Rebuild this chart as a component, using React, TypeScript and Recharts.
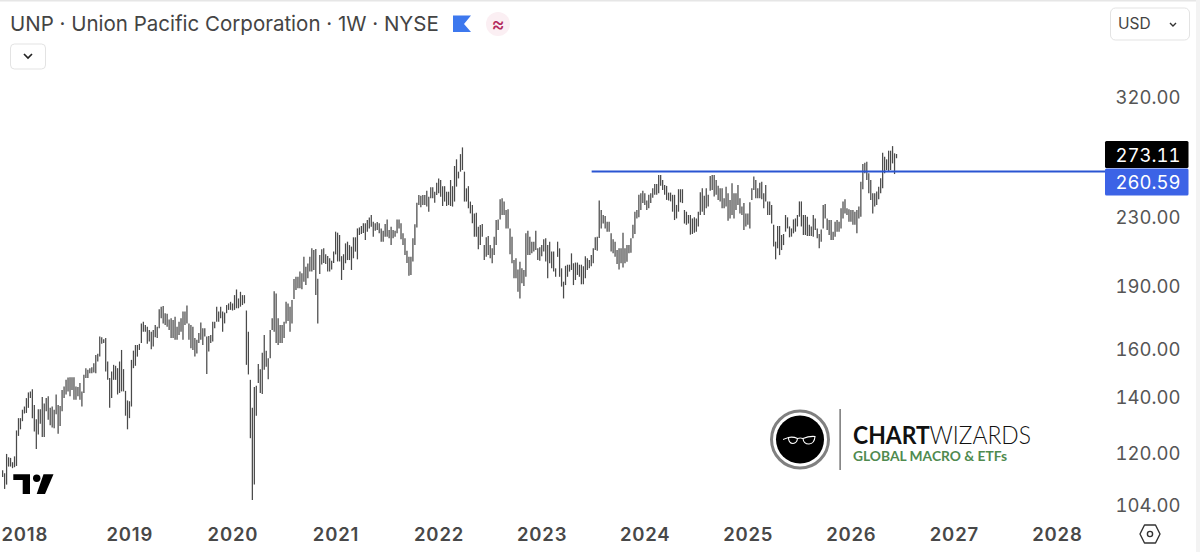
import React from "react";
import { ComposedChart, Bar, XAxis, YAxis, ReferenceLine } from "recharts";

const HIGHS = [
  114.4,113.5,119.7,118.6,118.4,117,118.9,127.7,132.1,132.1,
  135.2,136.4,139.6,141.8,142.2,143,137,131.7,135.4,135.4,
  140,137.5,139.6,140.3,135.9,136.4,135.2,141,137,136.6,
  142.8,144.1,146.8,147.8,147.9,147.9,147.9,144.1,143.9,145.5,
  142.2,148.9,151.6,150.9,151.6,152,153.7,157.2,157.7,165.4,
  165.1,164.2,164.7,154.4,147.6,150.2,153,152.6,151.6,154.4,
  159.4,151.2,142.4,138.7,138.4,155.1,159.1,161.6,161.6,162.1,
  171.5,172.3,170.7,169.9,168.4,167.6,168.4,170.7,169.9,178.3,
  179.6,179.9,176.4,176.1,173.4,173.9,173.1,174.7,169.9,172.3,
  173.9,177.2,177.2,180.2,171.5,170.7,169.9,164.7,163.9,167,
  171.9,169.2,169.2,165.4,165.7,166.1,172.3,172.3,179.6,177.2,
  179.6,177.2,176.7,180.4,181.2,182,181.2,185.4,188.3,183.7,
  187.1,185.4,185.4,177.7,167.6,146.8,135.9,143.9,144.4,153.4,
  151.2,158.2,166.1,159.1,155.8,168.4,173.9,187.4,186.2,173.9,
  170.7,170.7,172.3,182,181.2,179.6,182.9,193.8,195,195,
  197.8,196.9,206,200.5,202.2,206.1,210.9,209.9,210.5,193.9,
  207,210.3,210.9,207.5,206.5,205.2,203.8,209,220.8,220.2,
  218.8,206.4,207.5,213.8,214.8,212.8,211.9,217.4,217.4,222.8,
  223.4,224.3,226,226,228,229.6,231.2,227,226,226.8,
  226,222.8,221.4,225.6,228.4,221.8,223.8,221.8,221.4,228.4,
  228.4,226,219.9,216.8,209.5,206,206,216.8,225.4,239.2,
  244.3,243.8,244.3,244.3,247.2,243.1,249.5,249.5,246.5,252.6,
  255.7,254.6,250.3,250.3,246.5,246.5,254.6,250.3,264.6,269.5,
  260.5,273.4,278.5,260.5,248.8,250.3,239.9,237.6,232.2,232.7,
  223.8,224.9,225.6,212.8,217.4,218.2,212.8,210.9,217.8,228,
  228.4,241.4,242.1,239.9,234.4,234.8,222.8,217.8,204.2,205.2,
  199,203.3,199.6,198.7,219.9,221.4,217.8,214.8,214.8,221.4,
  210.9,211.5,212.8,216.2,216.8,212.8,214.8,209,209,199.6,
  214.8,210.9,199.6,192.4,201,201.6,201.6,208,202.4,202.8,
  202.8,201.6,201.6,200.7,206.4,205.2,204.2,207,210.9,217.4,
  217.8,240.6,234.4,231.2,230.6,227,227,219.8,216.2,214.8,
  209.9,210.9,210.9,220.2,210.9,212.8,212.8,216.8,225,233.3,
  234.4,244.4,245.5,247.2,245.5,240.6,244.4,245.5,248.8,251.8,
  251.8,258.1,258.1,254.6,251.1,250.5,245.9,245.9,244.4,244.4,
  237.7,248.2,248.2,248.2,234.4,233.3,231.2,231.2,229,229.7,
  229,233.3,246.1,248.8,243.7,248.8,244.4,257.4,258.1,258.1,
  254.6,250.5,248.8,248.8,242.1,249.9,245.5,241,252.3,245.5,
  245.5,251.1,242.1,236.6,238.9,232.2,232.2,239.4,248.8,257,
  254.6,248.8,252.7,253.4,245.5,251.1,240,240,237.7,225,
  214.8,224.3,224.3,218.8,219.4,231.2,229.7,224,222.8,228.4,
  229,231.2,240,240,231.2,231.2,230.1,225,224,231.2,
  229,222.8,219.4,222.2,237.7,238.3,229,228,228,220.8,
  227,228,227,235.5,240,241.4,235.5,234.8,234.4,234.4,
  233.3,234.4,236.6,253.4,266,267,267.7,259.3,254.6,245.5,
  245.5,246.6,249.9,255.8,274.5,271.5,269.5,276,276,279.5,
  274,273.5,
];

const LOWS = [
  112.3,108.7,110,115.6,115.6,115.1,115.4,115.8,125.8,128.1,
  131,133.8,134,135.9,139.6,132.1,127.3,121.3,126.3,130.1,
  125.4,125.4,134.6,131.5,129.5,128.7,128.5,133.5,126.5,129.3,
  134.6,139.6,141,142.2,140.3,142.8,139,139,140.3,139,
  136.4,141.6,147.6,147.6,149.5,149.5,149.8,149.5,154.4,156.5,
  162.2,162.5,150.2,146.8,135.9,139.6,146.8,146.8,141,141.6,
  142.2,142.2,133,128.1,132.1,136.4,151.6,152.6,156.5,159.4,
  162.5,167.6,167.6,162.1,163.2,159.7,160.9,165.1,164.7,169.2,
  173.9,171.5,170.7,169.9,168.4,164.7,164.7,163.9,163.9,166.1,
  167.6,163.9,170.7,171.5,163.9,160.1,159.4,156.5,157.9,162.5,
  163.9,161.6,165.4,149.2,158.7,162.5,163.2,169.2,172.3,172.3,
  173.9,167.6,171.5,176.4,178,178,177.7,178,178.8,178.8,
  179.6,180.4,181.2,153,149,125,105.4,110,133,145.5,
  141.6,141.2,150.9,152.2,147,155.8,168.4,167.6,162.5,161.6,
  162.5,162.5,164.7,171.5,172.6,167.6,171.5,183.4,188,188.9,
  188.9,188.4,192.4,190.6,194.2,197.8,197.8,198.7,185.5,171.5,
  196.5,201.7,202.5,202,197.8,197.8,199,202.5,207.4,203.4,
  203.4,193.3,198.7,202.4,204.2,204.2,198.7,205.2,209,204.6,
  218.8,219.4,220,215.8,220.8,222.8,223.8,217.8,221.4,221.8,
  219.9,214.8,214.8,217.8,217.8,216.8,212.8,216.8,217.8,219.9,
  222.8,216.2,212.8,207,202.5,195.6,196,203.4,212.8,223.4,
  237.6,236.1,237.6,237.6,236.6,233.3,242.1,242.1,239.2,244.3,
  245.4,243.1,237,239.9,237,237.6,237,236.6,239.9,250,
  255.7,260.5,261.7,239.9,239.9,235.5,232.2,226,217.8,217.8,
  210.3,212.8,217.8,204.2,206,207,205.2,202.4,207,212.8,
  221.8,228.4,231.2,231.2,222.8,222.8,207.5,202.4,194.2,194.2,
  187.1,183.7,191.5,190.1,195,207,207,208,209,209.9,
  204.2,203.8,206.4,209,203.4,194.2,202.4,199.6,197.8,195,
  206,195,189.8,183.7,190.6,195,197.8,198.7,190.6,193.3,
  196,195,191,191,194.2,198.7,199.6,200.7,202.4,209.9,
  209.5,217,222.8,225.8,222.8,220.8,220.8,209,208,206.1,
  202,199,202.4,200.1,202.4,203.3,208,208.4,216.8,219.4,
  229,229.7,234.4,238.9,237.7,234.4,235.5,238.9,242.5,244.4,
  244.4,245.5,250.5,247.7,244.4,241,240.6,240,233.3,228,
  229,233.3,239.4,238.9,225.8,225,225.8,219,219.4,220.2,
  220.8,224,231.2,233.3,231.2,235.5,236.6,247.2,247.7,243.3,
  244.4,241,240,235.5,235.5,236.6,227.6,229,231.2,229,
  234.4,237.7,232.2,231.2,221.8,224,225,222.8,241,247.7,
  242.1,242.1,242.1,241.4,235.5,240,231.2,231.2,225.8,212,
  204.6,210.9,207,209.9,212.8,220.8,222.8,217.4,217.8,219.8,
  220.8,224,230.1,224,218.8,218.8,218.2,218.2,218.2,217.8,
  221.8,216.8,210.9,214.8,222.8,229,221.8,218.8,215.8,215.8,
  217.8,220.8,220.8,222.8,229,232.2,231.2,227,227,225,
  225,219.8,229,230.1,248.2,259.3,254.6,245.5,241,232.2,
  236.6,237.7,241.4,245.5,248.8,259.3,261.7,260.5,261.7,266.5,
  258.8,270.3,
];

const TOTAL_WEEKS = 557;
const YEARS = [2018, 2019, 2020, 2021, 2022, 2023, 2024, 2025, 2026, 2027, 2028];
const YEAR_WEEKS = [11, 64, 116, 168, 220, 272, 324, 376, 428, 480, 532];
const PRICE_TICKS = [104, 120, 140, 160, 190, 230, 320];
const LAST_PRICE = 273.11;
const LEVEL = 260.59;
const LEVEL_FROM_WEEK = 297;
const LEVEL_TO_WEEK = 556;

const rows = Array.from({ length: TOTAL_WEEKS }, (_, week) => ({
  week,
  range: week < HIGHS.length ? [LOWS[week], HIGHS[week]] : null,
}));

const font = "Inter, 'Liberation Sans', sans-serif";
const tabular = { fontVariantNumeric: "tabular-nums", fontFeatureSettings: "'tnum'" } as React.CSSProperties;

function PriceTick(props: any) {
  const { y, payload } = props;
  const v = payload.value;
  if (v === LAST_PRICE || v === LEVEL) {
    const cy = v === LEVEL ? y + 10.5 : y;
    return (
      <g>
        <rect x={1105} y={cy - 13.5} width={83.5} height={27} rx={1.5} fill={v === LEVEL ? "#3c63e6" : "#000"} />
        <text x={1180.5} y={cy + 7} textAnchor="end" fontFamily={font} fontSize={18.5} fill="#fff" style={tabular}>{v.toFixed(2)}</text>
      </g>
    );
  }
  return <text x={1180.5} y={y + 7} textAnchor="end" fontFamily={font} fontSize={18.5} fill="#555" style={tabular}>{v.toFixed(2)}</text>;
}

function YearTick(props: any) {
  const { x, y, payload } = props;
  return (
    <text x={x} y={y + 13} textAnchor="middle" fontFamily={font} fontWeight={600} fontSize={18.5} letterSpacing={0.8} fill="#484848">
      {YEARS[YEAR_WEEKS.indexOf(payload.value)]}
    </text>
  );
}

export default function App() {
  return (
    <div style={{ position: "absolute", left: 0, top: 0, width: 1200, height: 552, background: "#fff", overflow: "hidden" }}>
      <ComposedChart width={1200} height={552} data={rows} margin={{ top: 70, right: 0, bottom: 0, left: 2 }} barGap={0} barCategoryGap={0}>
        <XAxis dataKey="week" type="category" ticks={YEAR_WEEKS} interval={0} axisLine={false} tickLine={false} height={32} tick={YearTick} />
        <YAxis
          orientation="right"
          type="number"
          scale="log"
          domain={[99.78, 344.7]}
          allowDataOverflow
          ticks={[...PRICE_TICKS, LEVEL, LAST_PRICE]}
          interval={0}
          axisLine={false}
          tickLine={false}
          width={94}
          tick={PriceTick}
        />
        <Bar dataKey="range" fill="#4a4a4a" barSize={1.25} isAnimationActive={false} />
        <ReferenceLine
          segment={[{ x: LEVEL_FROM_WEEK, y: LEVEL }, { x: LEVEL_TO_WEEK, y: LEVEL }]}
          stroke="#2a55d2"
          strokeWidth={2}
        />
      </ComposedChart>

      <svg width={1200} height={552} style={{ position: "absolute", left: 0, top: 0, pointerEvents: "none" }}>
        <rect x={0} y={0} width={1200} height={1.5} fill="#e6e6e6" />
        <rect x={1196} y={0} width={4} height={552} fill="#f3f3f3" />
        <text x={10} y={31} fontFamily={font} fontSize={20.5} fill="#444">UNP · Union Pacific Corporation · 1W · NYSE</text>
        <path d="M453 15.5 H471 L464 24 L471 32 H453 Z" fill="#3d78ee" />
        <circle cx={498} cy={24} r={12} fill="#fbeff3" />
        <text x={498} y={31} textAnchor="middle" fontFamily={font} fontSize={20} fill="#b42a5c">≈</text>
        <rect x={10.5} y={44} width={35} height={25} rx={4} fill="#fff" stroke="#e3e3e3" />
        <path d="M24 54 L28 58 L32 54" fill="none" stroke="#222" strokeWidth={1.7} />
        <rect x={1110.5} y={8} width={79} height={32} rx={5} fill="#fff" stroke="#e3e3e3" />
        <text x={1118} y={29} fontFamily={font} fontSize={15.5} fill="#444">USD</text>
        <path d="M1170 23 L1173 26 L1176 23" fill="none" stroke="#333" strokeWidth={1.4} />

        <path d="M13.3 474.3 H30 V494 H22.7 V480 H13.3 Z" fill="#000" />
        <circle cx={36.7} cy={478.3} r={3.7} fill="#000" />
        <path d="M43.5 474.3 H53.5 L45 494 H36.7 Z" fill="#000" />

        <circle cx={800} cy={439.5} r={28.5} fill="#fff" stroke="#808080" strokeWidth={3} />
        <circle cx={800} cy={439.5} r={24} fill="#000" />
        <path d="M788.5 437.5 Q788.5 443.5 793 443.5 Q797 443 797.5 438.5 Q793 436.5 788.5 437.5 Z M803 438.5 Q803.5 444 809 444 Q814.5 443.5 815 436.5 Q809 436 803 438.5 Z" fill="none" stroke="#fff" strokeWidth={1.1} />
        <path d="M783 439.5 L788.5 437.5 M797.5 438.5 Q800.2 437.5 803 438.5" stroke="#fff" strokeWidth={1} fill="none" />
        <rect x={839.5} y={409} width={1.2} height={61} fill="#555" />
        <text x={853} y={444} fontFamily="Lato, sans-serif" fontSize={25} fill="#111" textLength={178} lengthAdjust="spacingAndGlyphs">
          <tspan fontWeight={700}>CHART</tspan><tspan fontWeight={300}>WIZARDS</tspan>
        </text>
        <text x={853} y={461} fontFamily="Lato, sans-serif" fontSize={13.5} fontWeight={700} fill="#4f8a4f" textLength={154} lengthAdjust="spacingAndGlyphs">GLOBAL MACRO &amp; ETFs</text>

        <path d="M1144.5 525 H1155.5 L1160 534 L1155.5 543 H1144.5 L1140 534 Z" fill="none" stroke="#333" strokeWidth={1.4} strokeLinejoin="round" />
        <circle cx={1150} cy={534} r={2.6} fill="none" stroke="#333" strokeWidth={1.4} />
      </svg>
    </div>
  );
}
